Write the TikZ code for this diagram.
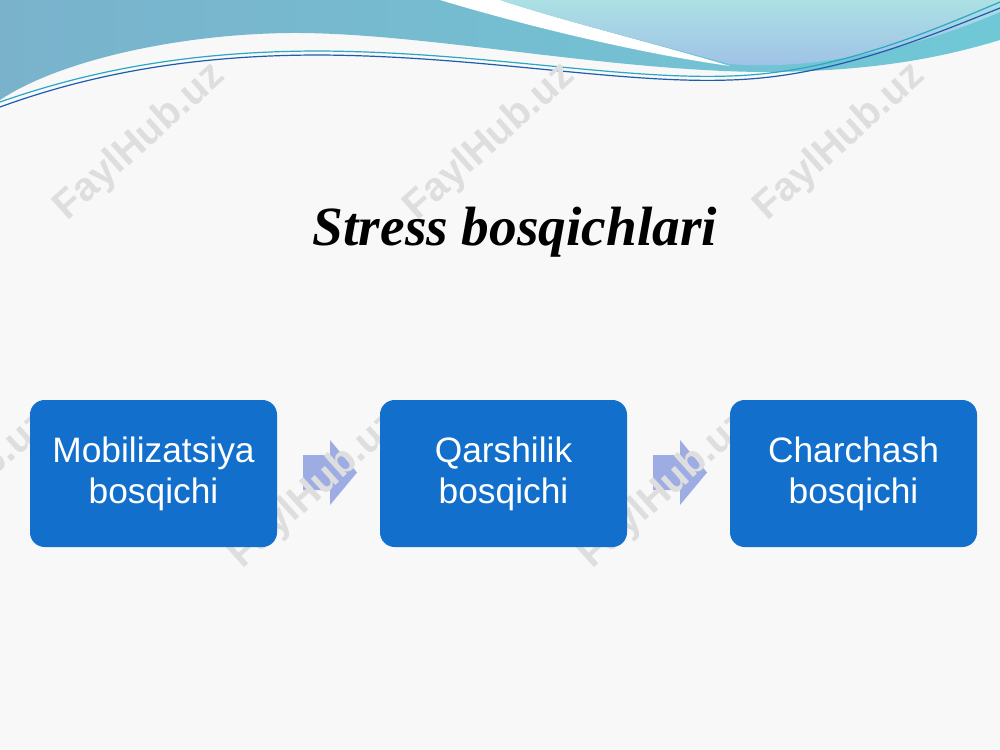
\documentclass[tikz,border=0pt]{standalone}
\usepackage{fontspec}
\setmainfont{Liberation Serif}
\newfontfamily\boxfont{Liberation Sans}
\usetikzlibrary{calc}

\tikzset{every picture/.style={line width=0.75pt}}
\tikzset{
  stagebox/.style={draw=none, fill={rgb, 255:red, 18; green, 112; blue, 204}, rounded corners=11pt,
    minimum width=185.25pt, minimum height=110.25pt, inner sep=0pt, align=center,
    text=white, font=\boxfont\fontsize{26.5}{30.8}\selectfont},
  wmark/.style={text={rgb, 255:red, 222; green, 222; blue, 222}, rotate=42, inner sep=0pt,
    font=\boxfont\bfseries\fontsize{30}{30}\selectfont},
  stagearrow/.style={fill={rgb, 255:red, 158; green, 172; blue, 228}, draw=none}
}

\begin{document}
\begin{tikzpicture}[x=0.75pt,y=0.75pt,yscale=-1,xscale=1]
%set diagram left start at 0, and has height of 750
\path[use as bounding box, fill={rgb, 255:red, 248; green, 248; blue, 248}] (0,0) rectangle (1000,750);

%Shape: Free Drawing [id:header teal]
\path [left color={rgb, 255:red, 122; green, 178; blue, 204}, right color={rgb, 255:red, 112; green, 200; blue, 214}]
  (0,0) -- (1000,0) -- (1000,40) .. controls (950,55) and (880,72) .. (760,72)
  .. controls (600,70) and (420,32) .. (290,33) .. controls (180,34) and (60,60) .. (0,100) -- cycle ;
%Shape: Free Drawing [id:header streak]
\path [fill={rgb, 255:red, 255; green, 255; blue, 255}]
  (440,0) .. controls (540,30) and (650,55) .. (730,66) .. controls (660,45) and (560,20) .. (500,0) -- cycle ;
%Shape: Free Drawing [id:header light]
\path [top color={rgb, 255:red, 172; green, 224; blue, 228}, bottom color={rgb, 255:red, 158; green, 192; blue, 230}]
  (500,0) .. controls (560,20) and (660,45) .. (730,64) .. controls (800,70) and (900,55) .. (1000,12) -- (1000,0) -- cycle ;
%Curve Lines [id:header lines]
\draw [color={rgb, 255:red, 40; green, 168; blue, 196}, line width=0.9]
  (0,102) .. controls (80,74) and (180,51) .. (320,51) .. controls (480,52) and (620,80) .. (730,76) .. controls (830,73) and (920,36) .. (1000,2) ;
\draw [color={rgb, 255:red, 30; green, 92; blue, 176}, line width=0.9]
  (0,107) .. controls (80,78) and (180,55) .. (320,55) .. controls (480,56) and (620,84) .. (730,80) .. controls (830,77) and (920,40) .. (1000,8) ;

% stage boxes (placed first as coordinates, drawn last)
\path (153.5,473.5) coordinate (p1) (503.5,473.5) coordinate (p2) (853.5,473.5) coordinate (p3);
\path (p1) ++(123.5,0) coordinate (e1) (p2) ++(-123.5,0) coordinate (w2)
      (p2) ++(123.5,0) coordinate (e2) (p3) ++(-123.5,0) coordinate (w3);
\coordinate (a1) at ($(e1)!0.5!(w2)+(1.5,-1)$);
\coordinate (a2) at ($(e2)!0.5!(w3)+(1.5,-1)$);

%Shape: Right Arrow
\foreach \a in {a1,a2}
  \fill [stagearrow] ([shift={(-27,-17.5)}]\a) -- ([shift={(0,-17.5)}]\a) -- ([shift={(0,-32.5)}]\a)
    -- ([shift={(27,0)}]\a) -- ([shift={(0,32.5)}]\a) -- ([shift={(0,17.5)}]\a) -- ([shift={(-27,17.5)}]\a) -- cycle ;

% watermark
\foreach \wx/\wy [count=\i] in {140/142, 490/142, 840/142, -35/490, 315/490, 665/490}
  \node [wmark] (wm\i) at (\wx,\wy) {FaylHub.uz};

% Text Node
\node (title) at (515,232) {\fontsize{41.5}{50}\selectfont\bfseries\itshape Stress bosqichlari};

% Text Node
\node [stagebox] (mob) at (p1) {Mobilizatsiya\\bosqichi};
% Text Node
\node [stagebox] (qar) at (p2) {Qarshilik\\bosqichi};
% Text Node
\node [stagebox] (cha) at (p3) {Charchash\\bosqichi};

\end{tikzpicture}
\end{document}
